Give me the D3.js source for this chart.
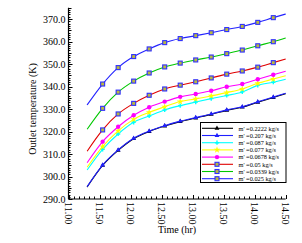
<!DOCTYPE html>
<html>
<head>
<meta charset="utf-8">
<script src="https://cdn.jsdelivr.net/npm/d3@7"></script>
<style>
  body { margin: 0; background: #fff; }
  text { font-family: "Liberation Serif", "DejaVu Serif", serif; fill: #000; }
</style>
</head>
<body>
<div id="chart"></div>
<script>
// Data
var times = [11.3, 11.55, 11.8, 12.05, 12.3, 12.55, 12.8, 13.05, 13.3, 13.55, 13.8, 14.05, 14.3, 14.5];

var t0025  = [331.8, 341.1, 348.4, 353.3, 356.7, 359.5, 361.3, 362.6, 363.9, 365.3, 366.7, 368.5, 370.6, 372.2];
var t00339 = [321.0, 330.3, 337.5, 342.4, 346.0, 348.7, 350.4, 351.8, 353.1, 354.6, 356.2, 358.1, 359.9, 361.6];
var t005   = [311.2, 320.7, 327.8, 332.5, 336.1, 338.9, 340.6, 342.1, 343.8, 345.5, 346.9, 348.6, 350.6, 352.2];
var t00678 = [306.1, 315.5, 322.1, 327.2, 330.8, 333.3, 335.4, 336.7, 338.1, 339.9, 341.1, 343.2, 345.2, 346.8];
var t0077  = [304.1, 313.3, 320.3, 325.4, 328.5, 331.0, 333.3, 334.5, 335.8, 337.3, 338.9, 341.4, 343.3, 344.8];
var t0087  = [302.9, 312.1, 318.9, 324.1, 326.9, 329.6, 331.5, 333.1, 334.6, 336.0, 337.6, 340.5, 341.9, 343.2];
var t0207  = [295.5, 305.1, 311.8, 317.0, 320.2, 322.6, 324.6, 326.2, 327.8, 329.6, 331.0, 333.2, 335.3, 337.0];
var t02222 = [295.3, 304.9, 311.6, 316.8, 320.0, 322.4, 324.4, 326.0, 327.6, 329.4, 330.8, 333.0, 335.1, 336.8];

var seriesNames = ["m' =0.2222 kg/s", "m' =0.207 kg/s", "m' =0.087 kg/s", "m' =0.077 kg/s",
                   "m' =0.0678 kg/s", "m' =0.05 kg/s", "m' =0.0339 kg/s", "m' =0.025 kg/s"];
var seriesValues = [t02222, t0207, t0087, t0077, t00678, t005, t00339, t0025];

var yTicks = [290, 300, 310, 320, 330, 340, 350, 360, 370];
var xTicks = [11.0, 11.5, 12.0, 12.5, 13.0, 13.5, 14.0, 14.5];

// styles per series
var styles = [
  {color: "#000000", marker: "tri",    mfill: "#000000", mstroke: "#000000"},
  {color: "#2020ff", marker: "tri",    mfill: "#2020ff", mstroke: "#2020ff"},
  {color: "#00ffff", marker: "cross",  mfill: "#00ffff", mstroke: "#00e0e0"},
  {color: "#ffff00", marker: "star",   mfill: "#ffff00", mstroke: "#e8e800"},
  {color: "#ff00ff", marker: "circle", mfill: "#ff00ff", mstroke: "#ff00ff"},
  {color: "#e00000", marker: "square", mfill: "#b8b840", mstroke: "#3030ff"},
  {color: "#00c800", marker: "square", mfill: "#b8b840", mstroke: "#3030ff"},
  {color: "#2424ff", marker: "square", mfill: "#b8b840", mstroke: "#3030ff"}
];

var W = 302, H = 243;
var svg = d3.select("#chart").append("svg").attr("width", W).attr("height", H);

var x = d3.scaleLinear().domain([11, 14.5]).range([68.5, 285.7]);
var y = d3.scaleLinear().domain([290, 375]).range([199, 7.75]);

// axes
var g = svg.append("g");
g.append("line").attr("x1", x(11)).attr("x2", x(11)).attr("y1", y(290)).attr("y2", y(375))
  .attr("stroke", "#000").attr("stroke-width", 1.2);
g.append("line").attr("x1", x(11)).attr("x2", x(14.5)).attr("y1", y(290)).attr("y2", y(290))
  .attr("stroke", "#000").attr("stroke-width", 1.2);

// y ticks (inward)
d3.range(290, 376, 1).forEach(function(v) {
  var len = v % 10 === 0 ? 4 : (v % 5 === 0 ? 3 : 2);
  g.append("line").attr("x1", x(11)).attr("x2", x(11) + len)
    .attr("y1", Math.round(y(v)) + 0.5).attr("y2", Math.round(y(v)) + 0.5)
    .attr("stroke", "#000").attr("stroke-width", 1);
});
g.selectAll(".ylab").data(yTicks).enter().append("text")
  .attr("x", x(11) - 3).attr("y", function(d) { return y(d); })
  .attr("dy", "0.35em").attr("text-anchor", "end").attr("font-size", 10)
  .text(function(d) { return d3.format(".1f")(d); });

// x ticks (inward)
d3.range(0, 43).forEach(function(i) {
  var v = 11 + i / 12;
  var len = i % 6 === 0 ? 4 : 2.5;
  g.append("line").attr("x1", Math.round(x(v)) + 0.5).attr("x2", Math.round(x(v)) + 0.5)
    .attr("y1", y(290)).attr("y2", y(290) - len)
    .attr("stroke", "#000").attr("stroke-width", 1);
});
g.selectAll(".xlab").data(xTicks).enter().append("text")
  .attr("transform", function(d) { return "translate(" + x(d) + "," + 202 + ") rotate(90)"; })
  .attr("dy", "0.35em").attr("text-anchor", "start").attr("font-size", 10)
  .text(function(d) { return d3.format(".2f")(d); });

// axis titles
svg.append("text").attr("transform", "translate(36,109) rotate(-90)")
  .attr("text-anchor", "middle").attr("font-size", 10).text("Outlet temperature (K)");
svg.append("text").attr("x", 177).attr("y", 233)
  .attr("text-anchor", "middle").attr("font-size", 10).text("Time (hr)");

// markers
function drawMarker(sel, st, cx, cy) {
  if (st.marker === "square") {
    sel.append("rect").attr("x", cx - 2).attr("y", cy - 2).attr("width", 4).attr("height", 4)
      .attr("fill", st.mfill).attr("stroke", st.mstroke).attr("stroke-width", 1.1);
  } else if (st.marker === "circle") {
    sel.append("circle").attr("cx", cx).attr("cy", cy).attr("r", 2.2).attr("fill", st.mfill);
  } else if (st.marker === "tri") {
    sel.append("path").attr("d", d3.symbol().type(d3.symbolTriangle).size(10)())
      .attr("transform", "translate(" + cx + "," + cy + ")").attr("fill", st.mfill);
  } else if (st.marker === "star") {
    sel.append("path").attr("d", d3.symbol().type(d3.symbolStar).size(14)())
      .attr("transform", "translate(" + cx + "," + cy + ")").attr("fill", st.mfill);
  } else {
    sel.append("path").attr("d", d3.symbol().type(d3.symbolCross).size(10)())
      .attr("transform", "translate(" + cx + "," + cy + ")").attr("fill", st.mfill);
  }
}

var line = d3.line().x(function(d) { return x(d[0]); }).y(function(d) { return y(d[1]); })
  .curve(d3.curveMonotoneX);

seriesValues.forEach(function(vals, i) {
  var st = styles[i];
  var pts = times.map(function(t, j) { return [t, vals[j]]; });
  var sg = svg.append("g");
  sg.append("path").datum(pts).attr("d", line).attr("fill", "none")
    .attr("stroke", st.color).attr("stroke-width", 1.1);
  pts.slice(1, pts.length - 1).forEach(function(p) {
    drawMarker(sg, st, x(p[0]), y(p[1]));
  });
});

// legend
var lg = svg.append("g");
lg.append("rect").attr("x", 200.5).attr("y", 122.5).attr("width", 85.5).attr("height", 60)
  .attr("fill", "#fff").attr("stroke", "#000").attr("stroke-width", 1);
seriesNames.forEach(function(name, i) {
  var st = styles[i];
  var ly = 128.3 + i * 7.2;
  lg.append("line").attr("x1", 202).attr("x2", 233).attr("y1", ly).attr("y2", ly)
    .attr("stroke", st.color).attr("stroke-width", 1.1);
  drawMarker(lg, st, 217, ly);
  lg.append("text").attr("x", 238.5).attr("y", ly).attr("dy", "0.35em")
    .attr("font-size", 6.3).text(name);
});
</script>
</body>
</html>
